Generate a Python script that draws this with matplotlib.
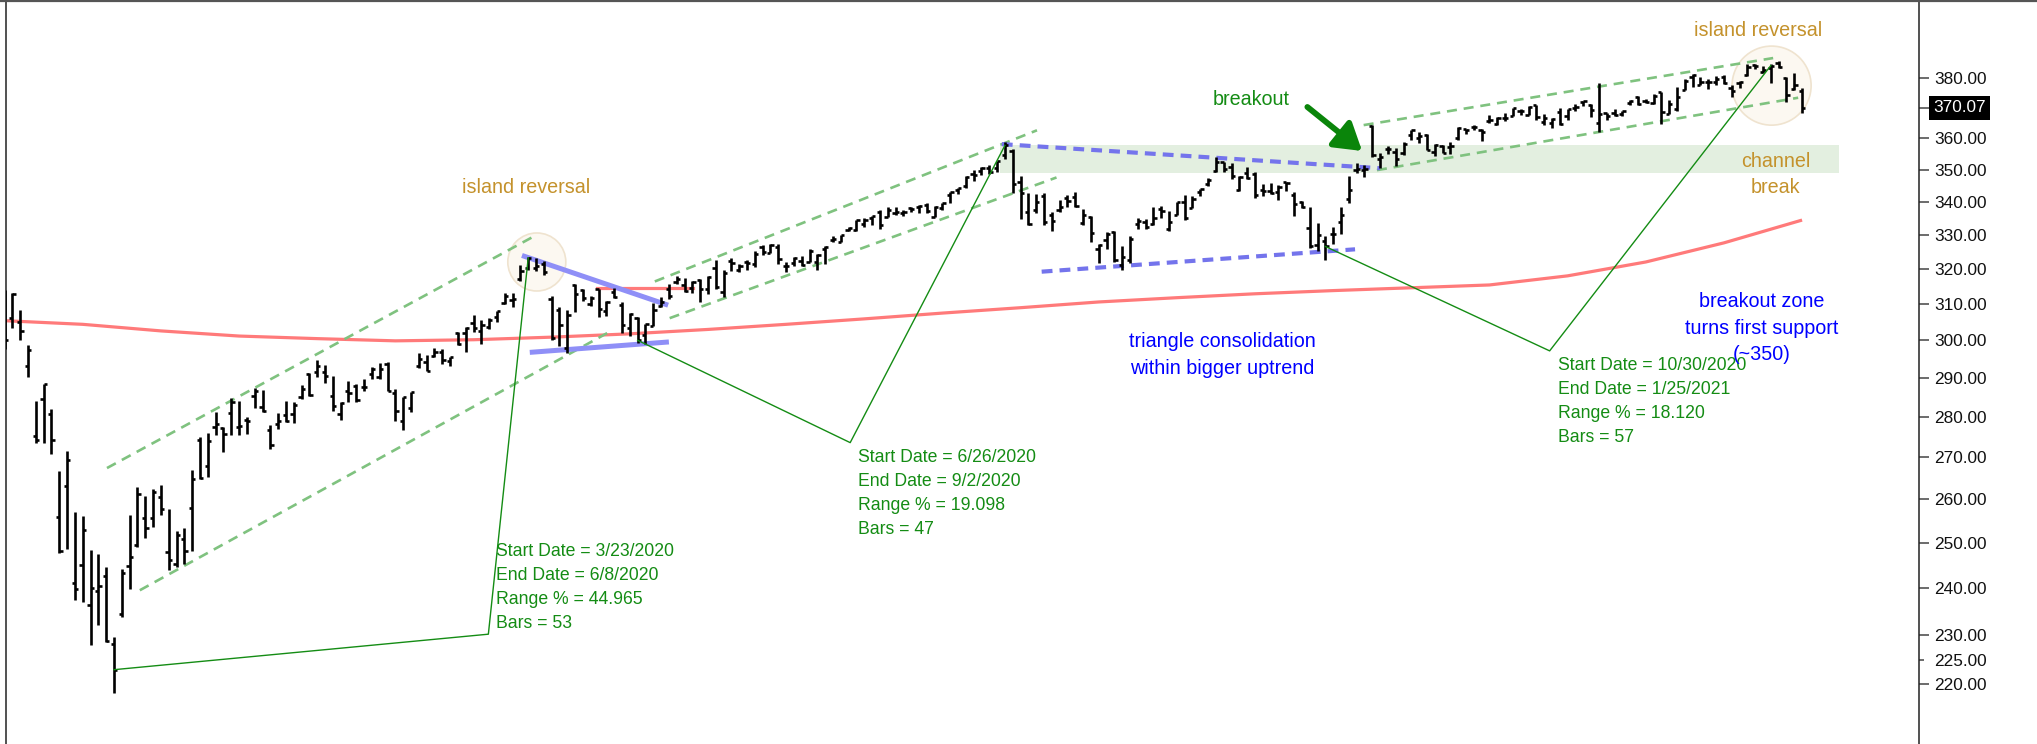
import numpy as np
import matplotlib.pyplot as plt
from matplotlib.collections import LineCollection
from matplotlib.lines import Line2D

plt.rcParams['font.family'] = ['Liberation Sans', 'DejaVu Sans']

# daily bars, 3/3/2020 .. 1/29/2021
dates = [
    '3/3/2020', '3/4/2020', '3/5/2020', '3/6/2020', '3/9/2020', '3/10/2020', '3/11/2020', '3/12/2020', '3/13/2020',
    '3/16/2020', '3/17/2020', '3/18/2020', '3/19/2020', '3/20/2020', '3/23/2020', '3/24/2020', '3/25/2020',
    '3/26/2020', '3/27/2020', '3/30/2020', '3/31/2020',
    '4/1/2020', '4/2/2020', '4/3/2020', '4/6/2020', '4/7/2020', '4/8/2020', '4/9/2020', '4/13/2020', '4/14/2020',
    '4/15/2020', '4/16/2020', '4/17/2020', '4/20/2020', '4/21/2020', '4/22/2020', '4/23/2020', '4/24/2020',
    '4/27/2020', '4/28/2020', '4/29/2020', '4/30/2020',
    '5/1/2020', '5/4/2020', '5/5/2020', '5/6/2020', '5/7/2020', '5/8/2020', '5/11/2020', '5/12/2020', '5/13/2020',
    '5/14/2020', '5/15/2020', '5/18/2020', '5/19/2020', '5/20/2020', '5/21/2020', '5/22/2020', '5/26/2020',
    '5/27/2020', '5/28/2020', '5/29/2020',
    '6/1/2020', '6/2/2020', '6/3/2020', '6/4/2020', '6/5/2020', '6/8/2020', '6/9/2020', '6/10/2020', '6/11/2020',
    '6/12/2020', '6/15/2020', '6/16/2020', '6/17/2020', '6/18/2020', '6/19/2020', '6/22/2020', '6/23/2020',
    '6/24/2020', '6/25/2020', '6/26/2020', '6/29/2020', '6/30/2020',
    '7/1/2020', '7/2/2020', '7/6/2020', '7/7/2020', '7/8/2020', '7/9/2020', '7/10/2020', '7/13/2020', '7/14/2020',
    '7/15/2020', '7/16/2020', '7/17/2020', '7/20/2020', '7/21/2020', '7/22/2020', '7/23/2020', '7/24/2020',
    '7/27/2020', '7/28/2020', '7/29/2020', '7/30/2020', '7/31/2020',
    '8/3/2020', '8/4/2020', '8/5/2020', '8/6/2020', '8/7/2020', '8/10/2020', '8/11/2020', '8/12/2020', '8/13/2020',
    '8/14/2020', '8/17/2020', '8/18/2020', '8/19/2020', '8/20/2020', '8/21/2020', '8/24/2020', '8/25/2020',
    '8/26/2020', '8/27/2020', '8/28/2020', '8/31/2020',
    '9/1/2020', '9/2/2020', '9/3/2020', '9/4/2020', '9/8/2020', '9/9/2020', '9/10/2020', '9/11/2020', '9/14/2020',
    '9/15/2020', '9/16/2020', '9/17/2020', '9/18/2020', '9/21/2020', '9/22/2020', '9/23/2020', '9/24/2020',
    '9/25/2020', '9/28/2020', '9/29/2020', '9/30/2020',
    '10/1/2020', '10/2/2020', '10/5/2020', '10/6/2020', '10/7/2020', '10/8/2020', '10/9/2020', '10/12/2020',
    '10/13/2020', '10/14/2020', '10/15/2020', '10/16/2020', '10/19/2020', '10/20/2020', '10/21/2020',
    '10/22/2020', '10/23/2020', '10/26/2020', '10/27/2020', '10/28/2020', '10/29/2020', '10/30/2020',
    '11/2/2020', '11/3/2020', '11/4/2020', '11/5/2020', '11/6/2020', '11/9/2020', '11/10/2020', '11/11/2020',
    '11/12/2020', '11/13/2020', '11/16/2020', '11/17/2020', '11/18/2020', '11/19/2020', '11/20/2020',
    '11/23/2020', '11/24/2020', '11/25/2020', '11/27/2020', '11/30/2020',
    '12/1/2020', '12/2/2020', '12/3/2020', '12/4/2020', '12/7/2020', '12/8/2020', '12/9/2020', '12/10/2020',
    '12/11/2020', '12/14/2020', '12/15/2020', '12/16/2020', '12/17/2020', '12/18/2020', '12/21/2020',
    '12/22/2020', '12/23/2020', '12/24/2020', '12/28/2020', '12/29/2020', '12/30/2020', '12/31/2020',
    '1/4/2021', '1/5/2021', '1/6/2021', '1/7/2021', '1/8/2021', '1/11/2021', '1/12/2021', '1/13/2021',
    '1/14/2021', '1/15/2021', '1/19/2021', '1/20/2021', '1/21/2021', '1/22/2021', '1/25/2021', '1/26/2021',
    '1/27/2021', '1/28/2021', '1/29/2021',
]

opens = [
    309.50, 306.12, 304.98, 293.15, 275.30, 284.64, 280.70, 255.94, 263.09, 241.18, 245.04, 236.25, 239.25, 242.53, 228.19, 234.42, 244.87, 249.52, 255.52, 255.70, 260.56,
    247.98, 245.19, 250.76, 257.84, 274.21, 267.96, 277.58, 277.14, 280.98, 277.57, 279.15, 285.38, 282.61, 276.73, 278.35, 280.49, 280.73, 285.12, 291.02, 291.53, 291.71,
    285.31, 280.74, 286.64, 288.04, 287.75, 291.09, 290.34, 293.79, 286.06, 278.95, 282.37, 293.05, 294.35, 295.82, 296.79, 294.57, 301.93, 302.12, 304.65, 302.46,
    303.62, 306.55, 310.24, 311.11, 317.23, 320.22, 320.30, 321.42, 311.46, 308.24, 298.02, 315.48, 314.07, 310.01, 314.17, 307.99, 313.49, 309.84, 303.47, 306.16, 301.41, 303.99,
    309.57, 314.24, 316.37, 315.38, 314.61, 316.84, 314.31, 320.13, 313.30, 322.41, 319.79, 321.88, 321.43, 326.45, 324.62, 326.47, 320.95, 321.63, 322.43, 322.12, 321.90, 325.90,
    328.32, 327.86, 331.47, 331.48, 333.28, 335.06, 336.85, 335.44, 336.59, 336.41, 337.94, 338.34, 339.05, 335.36, 337.92, 342.12, 343.53, 344.76, 348.51, 349.44, 350.35,
    350.35, 354.67, 355.87, 346.13, 336.71, 337.55, 341.82, 335.82, 337.49, 341.12, 341.51, 333.56, 335.37, 325.70, 328.57, 330.90, 321.22, 322.58, 333.22, 333.97, 333.09,
    337.69, 331.70, 336.06, 339.91, 338.12, 342.85, 345.56, 349.59, 352.28, 350.75, 343.71, 348.96, 348.65, 343.46, 343.33, 342.96, 345.93, 342.13, 339.76, 332.10, 326.91, 328.28,
    330.20, 333.69, 340.86, 349.93, 349.93, 363.97, 353.49, 356.40, 355.58, 355.27, 360.98, 359.97, 360.91, 355.60, 357.50, 357.28, 360.21, 363.13, 363.84, 362.83,
    365.57, 364.82, 366.68, 367.32, 369.02, 367.72, 370.88, 365.37, 364.90, 368.64, 367.40, 369.82, 371.94, 370.97, 364.97, 368.21, 368.28, 368.08, 371.74, 373.81, 372.34, 371.78,
    375.31, 368.10, 369.71, 376.10, 380.59, 377.85, 378.89, 378.69, 380.59, 376.72, 378.34, 381.11, 384.49, 382.25, 383.67, 385.41, 380.22, 376.36, 375.63,
]
highs = [
    313.84, 313.10, 308.47, 298.79, 284.19, 288.52, 281.94, 266.66, 271.48, 256.90, 256.17, 248.37, 247.38, 244.47, 229.68, 244.10, 256.35, 262.80, 260.81, 262.43, 263.33,
    257.66, 252.68, 253.32, 267.00, 275.03, 276.00, 281.20, 277.51, 284.90, 283.94, 280.03, 287.30, 286.79, 278.04, 281.00, 283.94, 283.70, 288.27, 291.40, 294.88, 293.32,
    290.66, 283.90, 289.25, 288.46, 289.78, 292.95, 294.00, 294.24, 287.19, 285.11, 286.33, 296.75, 296.21, 297.87, 297.67, 295.63, 302.19, 303.57, 306.84, 305.52,
    306.21, 308.13, 313.22, 313.00, 321.27, 323.41, 323.28, 322.39, 312.15, 309.08, 308.28, 315.64, 314.39, 312.30, 314.38, 310.79, 314.50, 310.51, 307.64, 306.39, 304.61, 310.20,
    311.89, 315.70, 317.88, 317.52, 316.50, 317.10, 317.88, 322.71, 319.76, 323.04, 321.28, 322.57, 325.13, 326.93, 327.20, 327.23, 321.99, 323.41, 323.64, 325.73, 324.41, 326.63,
    329.62, 330.06, 332.39, 334.46, 334.88, 335.77, 337.54, 338.28, 338.25, 337.42, 338.34, 339.10, 339.61, 338.80, 339.72, 343.00, 344.21, 347.86, 349.90, 350.72, 351.30,
    352.71, 358.75, 356.38, 347.83, 342.64, 342.46, 342.53, 336.97, 340.38, 342.02, 343.06, 337.70, 335.49, 327.13, 330.90, 331.20, 326.80, 329.58, 334.96, 334.77, 338.29,
    338.74, 337.01, 339.96, 342.17, 341.63, 343.85, 347.35, 354.02, 352.47, 351.93, 348.02, 350.75, 349.33, 345.44, 345.67, 345.24, 345.99, 342.98, 340.12, 338.25, 333.40, 329.69,
    332.36, 338.25, 347.94, 352.19, 351.51, 364.38, 355.18, 357.56, 356.72, 358.90, 362.78, 361.92, 361.50, 358.18, 357.72, 358.82, 363.81, 363.16, 364.18, 363.12,
    367.68, 366.96, 368.19, 369.85, 369.62, 370.78, 371.05, 367.86, 366.74, 369.80, 369.59, 371.16, 372.46, 371.15, 378.46, 368.33, 369.62, 369.03, 372.59, 374.00, 373.10, 374.66,
    375.45, 372.50, 376.98, 379.90, 381.49, 380.58, 379.86, 380.86, 381.13, 377.58, 379.23, 384.79, 384.95, 384.13, 384.77, 385.85, 380.32, 381.93, 376.67,
]
lows = [
    297.57, 303.33, 300.01, 290.23, 273.45, 273.47, 270.89, 247.68, 248.52, 237.36, 237.07, 228.02, 232.22, 228.50, 218.26, 233.80, 239.75, 249.05, 251.05, 253.53, 256.22,
    243.90, 244.59, 245.22, 248.17, 264.89, 265.25, 275.47, 271.41, 275.51, 275.46, 275.76, 282.40, 281.35, 272.02, 276.91, 278.75, 278.50, 284.62, 285.40, 290.41, 288.59,
    281.52, 279.13, 283.71, 283.78, 286.76, 289.86, 289.88, 286.52, 278.97, 276.77, 281.34, 292.70, 291.95, 295.57, 293.69, 293.22, 298.69, 296.87, 302.24, 299.14,
    303.06, 305.10, 309.94, 309.08, 316.47, 319.63, 319.36, 318.22, 300.01, 298.60, 296.74, 307.67, 310.86, 309.51, 306.53, 306.81, 311.61, 302.10, 301.14, 299.42, 298.93, 303.82,
    309.07, 311.51, 315.56, 313.37, 313.09, 310.68, 312.76, 314.13, 312.00, 319.27, 319.09, 319.74, 320.62, 323.94, 324.50, 321.48, 319.25, 320.77, 320.85, 322.08, 319.64, 321.33,
    327.73, 327.86, 331.18, 331.13, 332.30, 332.96, 331.83, 335.43, 335.83, 335.62, 336.85, 336.61, 336.62, 335.22, 337.55, 339.45, 342.27, 344.17, 346.53, 348.15, 348.60,
    349.24, 353.43, 342.59, 334.87, 332.88, 336.61, 332.85, 331.00, 336.76, 338.47, 338.52, 332.99, 327.97, 321.73, 325.86, 322.10, 319.80, 321.64, 331.61, 331.62, 332.88,
    335.01, 331.19, 335.98, 334.38, 338.09, 341.86, 344.89, 349.06, 349.09, 347.14, 343.13, 347.10, 341.04, 341.80, 342.40, 340.65, 343.13, 335.62, 337.99, 326.13, 325.09, 322.60,
    327.24, 330.29, 339.59, 348.86, 347.65, 354.06, 350.51, 355.06, 351.26, 354.71, 359.59, 358.34, 356.24, 354.15, 355.25, 354.87, 359.29, 361.48, 362.58, 359.17,
    364.93, 364.20, 365.50, 367.22, 367.72, 367.67, 365.95, 364.43, 363.26, 364.47, 365.92, 368.87, 370.62, 367.02, 362.03, 366.03, 367.22, 367.45, 371.07, 370.83, 371.57, 371.23,
    364.82, 368.05, 369.12, 375.91, 377.10, 377.72, 376.36, 377.85, 378.10, 373.70, 376.75, 380.69, 383.25, 381.84, 378.46, 383.54, 372.01, 375.89, 368.27,
]
closes = [
    300.24, 312.86, 302.46, 297.46, 274.23, 288.42, 274.36, 248.11, 269.32, 239.85, 252.80, 240.00, 240.51, 228.80, 222.95, 243.15, 246.79, 261.20, 253.42, 261.65, 257.75,
    246.15, 251.83, 248.19, 264.86, 265.13, 274.03, 278.20, 275.66, 283.79, 277.76, 279.10, 286.64, 281.59, 273.04, 279.08, 279.08, 282.97, 287.05, 285.73, 293.21, 290.48,
    282.79, 283.57, 286.19, 284.25, 287.68, 292.44, 292.50, 286.67, 281.60, 284.97, 286.28, 295.00, 291.97, 296.93, 294.88, 295.44, 299.08, 303.53, 303.43, 304.32,
    305.55, 308.08, 312.18, 311.36, 319.34, 323.20, 320.79, 319.00, 300.61, 304.21, 307.05, 312.96, 311.66, 311.78, 308.64, 310.62, 312.05, 304.09, 307.35, 300.05, 304.46, 308.36,
    310.52, 312.23, 317.05, 313.78, 316.18, 314.38, 317.59, 314.84, 318.92, 321.85, 320.79, 321.72, 324.32, 325.01, 326.86, 322.96, 320.88, 323.22, 321.17, 325.12, 323.96, 326.52,
    328.79, 330.06, 332.11, 334.33, 334.57, 335.57, 332.80, 337.44, 336.83, 336.84, 337.91, 338.64, 337.23, 338.28, 339.48, 342.92, 344.12, 347.57, 348.33, 350.58, 349.31,
    352.60, 357.70, 345.39, 342.57, 333.21, 339.79, 333.89, 334.06, 338.46, 340.17, 338.82, 335.84, 330.65, 326.97, 330.30, 322.64, 323.50, 328.73, 334.19, 332.37, 334.89,
    337.04, 333.84, 339.76, 334.93, 340.76, 343.78, 346.85, 352.43, 350.13, 347.93, 347.50, 347.29, 342.01, 343.38, 342.73, 344.61, 345.78, 339.39, 338.22, 326.66, 329.98, 326.54,
    330.20, 336.03, 343.54, 350.24, 350.16, 354.56, 354.04, 356.67, 353.21, 358.10, 362.57, 360.62, 356.28, 357.78, 355.33, 357.46, 363.22, 362.66, 363.67, 362.06,
    366.02, 366.79, 366.69, 369.85, 369.09, 370.17, 366.85, 366.73, 366.30, 364.66, 369.59, 370.17, 372.24, 369.18, 367.86, 367.24, 367.57, 369.00, 372.17, 371.46, 371.99, 373.88,
    368.79, 371.33, 373.55, 379.10, 381.26, 378.69, 378.77, 379.79, 378.46, 375.70, 378.65, 383.89, 384.24, 382.88, 384.39, 383.79, 374.41, 377.63, 370.07,
]

# long moving average (bar index, value)
ma_idx = [0, 10, 20, 30, 40, 50, 60, 70, 80, 90, 100, 110, 120, 130, 140, 150, 160, 170, 180, 190, 200, 210, 220, 230]
ma_val = [305.4, 304.4, 302.6, 301.2, 300.5, 299.9, 300.2, 300.9, 301.8, 303.0, 304.4, 305.9, 307.5, 309.0,
          310.6, 311.8, 312.9, 313.8, 314.6, 315.4, 318.0, 322.0, 327.6, 334.4]

# drawn trendlines: (x0, y0, x1, y1) in bar index / price
channels = [(13.1, 267.4, 68.1, 330.0), (17.3, 239.5, 77.1, 302.0),
            (83.2, 316.4, 132.1, 362.6), (85.1, 306.1, 134.6, 347.5),
            (173.9, 364.3, 226.3, 387.0), (175.6, 349.8, 229.5, 373.4)]
tri_solid = [(66.2, 323.9, 84.9, 309.7), (67.2, 296.8, 85.0, 299.6)]
tri_dashed = [(127.6, 358.1, 176.0, 350.4), (132.7, 319.2, 172.8, 325.7)]
gap_line = (75.8, 88.1, 314.6)
zone = (127.4, 234.7, 349.0, 357.8)

ranges = [
    ('3/23/2020', '6/8/2020', 61.9, 230.2, ['Start Date = 3/23/2020', 'End Date = 6/8/2020', 'Range % = 44.965', 'Bars = 53'], True),
    ('6/26/2020', '9/2/2020', 108.2, 273.6, ['Start Date = 6/26/2020', 'End Date = 9/2/2020', 'Range % = 19.098', 'Bars = 47'], False),
    ('10/30/2020', '1/25/2021', 197.7, 297.2, ['Start Date = 10/30/2020', 'End Date = 1/25/2021', 'Range % = 18.120', 'Bars = 57'], False),
]

GREEN = '#148c14'
TAN = '#c4922c'

fig = plt.figure(figsize=(20.37, 7.44), dpi=100)
ax = fig.add_axes([5.7 / 2037, 0, (1919.3 - 5.7) / 2037, 1])
ax.set_yscale('log')
ax.set_xlim(0.14, 245.0)
ax.set_ylim(208.5, 407.8)

# support zone
ax.fill_between([zone[0], zone[1]], zone[2], zone[3], color='#e3efe0', lw=0, zorder=0)

# island reversal circles
ax.scatter([68.1, 226.1], [322.0, 377.5], s=[1745, 3240], facecolor='#fcf8f1',
           edgecolor='#efe3cf', linewidth=1.2, zorder=1)

# moving average + gap line
ax.plot(ma_idx, ma_val, color='#ff7a7a', lw=2.3, zorder=2, solid_capstyle='butt', solid_joinstyle='round')
ax.plot([gap_line[0], gap_line[1]], [gap_line[2], gap_line[2]], color='#ff7a7a', lw=2.3, zorder=2)

for x0, y0, x1, y1 in channels:
    ax.plot([x0, x1], [y0, y1], color='#7fc27f', lw=1.9, ls=(0, (3.8, 2.6)), zorder=2)
for x0, y0, x1, y1 in tri_solid:
    ax.plot([x0, x1], [y0, y1], color='#8f8ff7', lw=3.6, zorder=2, solid_capstyle='butt')
for x0, y0, x1, y1 in tri_dashed:
    ax.plot([x0, x1], [y0, y1], color='#7474ec', lw=3.0, ls=(0, (2.6, 1.7)), zorder=2)

# OHLC bars
tk = 0.42
segs = []
for i in range(len(closes)):
    segs.append([(i, lows[i]), (i, highs[i])])
    segs.append([(i - tk, opens[i]), (i, opens[i])])
    segs.append([(i, closes[i]), (i + tk, closes[i])])
ax.add_collection(LineCollection(segs, colors='black', linewidths=1.9, capstyle='butt', zorder=3))

# range annotations
for start, end, vx, vy, lines, above in ranges:
    i0, i1 = dates.index(start), dates.index(end)
    ax.plot([i0, vx, i1], [closes[i0], vy, closes[i1]], color=GREEN, lw=1.0, zorder=4)
    offs = [-78, -54, -30, -6] if above else [19, 43, 67, 91]
    for t, dy in zip(lines, offs):
        ax.annotate(t, (vx, vy), xytext=(8, -dy), textcoords='offset pixels',
                    color=GREEN, fontsize=12.7, ha='left', va='baseline', zorder=5)

# breakout arrow
ax.annotate('', xy=(173.7, 355.9), xytext=(166.7, 370.3),
            arrowprops=dict(arrowstyle='-|>,head_length=0.8,head_width=0.5', lw=4.2,
                            color='#0a850a', mutation_scale=20, shrinkA=0, shrinkB=0), zorder=5)

ax.text(159.5, 371.0, 'breakout', color=GREEN, fontsize=14.2, ha='center', va='baseline')
ax.text(66.7, 342.8, 'island reversal', color=TAN, fontsize=14.2, ha='center', va='baseline')
ax.text(224.4, 394.8, 'island reversal', color=TAN, fontsize=14.2, ha='center', va='baseline')
ax.text(226.6, 350.9, 'channel', color=TAN, fontsize=14.2, ha='center', va='baseline')
ax.text(226.6, 342.6, 'break', color=TAN, fontsize=14.2, ha='center', va='baseline')
ax.text(155.8, 298.2, 'triangle consolidation', color='#0000ff', fontsize=14.2, ha='center', va='baseline')
ax.text(155.8, 291.1, 'within bigger uptrend', color='#0000ff', fontsize=14.2, ha='center', va='baseline')
ax.text(224.8, 309.3, 'breakout zone', color='#0000ff', fontsize=14.2, ha='center', va='baseline', zorder=5)
ax.text(224.8, 301.8, 'turns first support', color='#0000ff', fontsize=14.2, ha='center', va='baseline', zorder=5)
ax.text(224.8, 294.8, '(~350)', color='#0000ff', fontsize=14.2, ha='center', va='baseline', zorder=5)

# price axis on the right
major = [220, 230, 240, 250, 260, 270, 280, 290, 300, 310, 320, 330, 340, 350, 360, 370.07, 380]
ax.set_yticks(major, ['' if v == 370.07 else f'{v:.2f}' for v in major])
ax.set_yticks([225], ['225.00'], minor=True)
ax.tick_params(axis='y', which='both', left=False, labelleft=False, right=True, labelright=True,
               direction='out', labelsize=12.4, color='#444444', labelcolor='#111111')
ax.tick_params(axis='y', which='major', length=7.5, width=1.1, pad=3)
ax.tick_params(axis='y', which='minor', length=3.5, width=1.1, pad=7)
ax.tick_params(axis='x', bottom=False, labelbottom=False)
ax.annotate('370.07', (1, closes[-1]), xycoords=('axes fraction', 'data'), xytext=(13.7, 0),
            textcoords='offset pixels', color='white', fontsize=12.4, ha='left', va='center',
            bbox=dict(facecolor='black', edgecolor='none', pad=3.2), annotation_clip=False)

for s in ['top', 'bottom']:
    ax.spines[s].set_visible(False)
for s in ['left', 'right']:
    ax.spines[s].set_color('#222222')
    ax.spines[s].set_linewidth(1.1)

fig.add_artist(Line2D([0, 1], [0.9985, 0.9985], transform=fig.transFigure, color='#555555', lw=1.6))

fig.savefig('out.png', dpi=100)
